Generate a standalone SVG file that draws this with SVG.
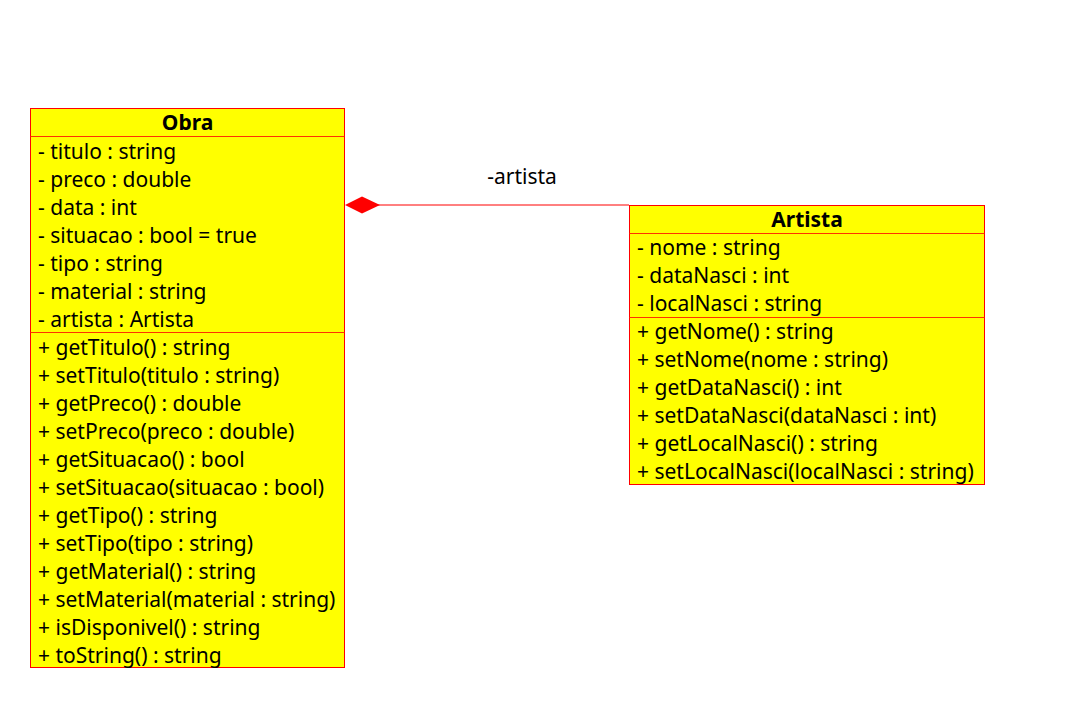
<svg xmlns="http://www.w3.org/2000/svg" width="1085" height="721" viewBox="0 0 1085 721">
<style>
.box{fill:#ffff00;stroke:#ff0000;stroke-width:1}
.sep{stroke:#ff3300;stroke-width:1}
text{font-family:"Noto Sans","Open Sans",sans-serif;font-size:21px;fill:#000}
.title{font-weight:bold;text-anchor:middle}
</style>
<rect width="1085" height="721" fill="#fff"/>
<g id="connectors">
<line x1="378" y1="205" x2="629" y2="205" stroke="#ff0000" stroke-width="1"/>
<polygon points="345,205 362,196.5 380,205 362,213.5" fill="#ff0000"/>
<text x="522" y="184" text-anchor="middle">-artista</text>
</g>
<g id="Obra">
<rect class="box" x="30.5" y="108.5" width="314" height="559"/>
<line class="sep" x1="30.5" y1="136.5" x2="344.5" y2="136.5"/>
<line class="sep" x1="30.5" y1="332.5" x2="344.5" y2="332.5"/>
<text class="title" x="187.5" y="130">Obra</text>
<text x="38" y="159">- titulo : string</text>
<text x="38" y="187">- preco : double</text>
<text x="38" y="215">- data : int</text>
<text x="38" y="243">- situacao : bool = true</text>
<text x="38" y="271">- tipo : string</text>
<text x="38" y="299">- material : string</text>
<text x="38" y="327">- artista : Artista</text>
<text x="38" y="355">+ getTitulo() : string</text>
<text x="38" y="383">+ setTitulo(titulo : string)</text>
<text x="38" y="411">+ getPreco() : double</text>
<text x="38" y="439">+ setPreco(preco : double)</text>
<text x="38" y="467">+ getSituacao() : bool</text>
<text x="38" y="495">+ setSituacao(situacao : bool)</text>
<text x="38" y="523">+ getTipo() : string</text>
<text x="38" y="551">+ setTipo(tipo : string)</text>
<text x="38" y="579">+ getMaterial() : string</text>
<text x="38" y="607">+ setMaterial(material : string)</text>
<text x="38" y="635">+ isDisponivel() : string</text>
<text x="38" y="663">+ toString() : string</text>
</g>
<g id="Artista">
<rect class="box" x="629.5" y="205.5" width="355" height="279"/>
<line class="sep" x1="629.5" y1="233.5" x2="984.5" y2="233.5"/>
<line class="sep" x1="629.5" y1="317.5" x2="984.5" y2="317.5"/>
<text class="title" x="807" y="227">Artista</text>
<text x="637" y="255">- nome : string</text>
<text x="637" y="283">- dataNasci : int</text>
<text x="637" y="311">- localNasci : string</text>
<text x="637" y="339">+ getNome() : string</text>
<text x="637" y="367">+ setNome(nome : string)</text>
<text x="637" y="395">+ getDataNasci() : int</text>
<text x="637" y="423">+ setDataNasci(dataNasci : int)</text>
<text x="637" y="451">+ getLocalNasci() : string</text>
<text x="637" y="479">+ setLocalNasci(localNasci : string)</text>
</g>
</svg>
